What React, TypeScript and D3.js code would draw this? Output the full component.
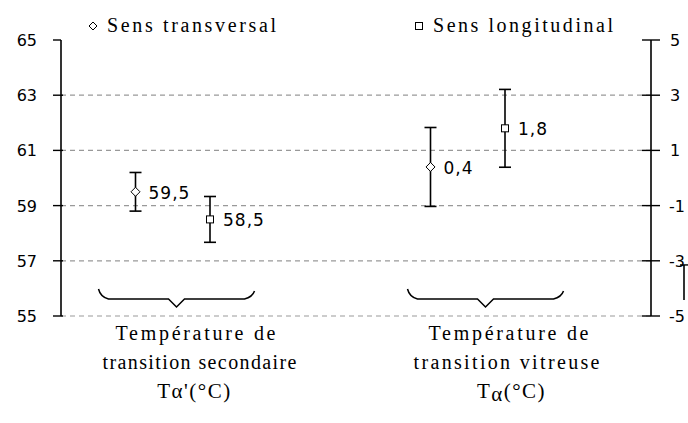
import React from "react";
import * as d3 from "d3";

const categories = ["secondaire", "vitreuse"];
const series = ["Sens transversal", "Sens longitudinal"];
// values: first category on left axis, second on right axis
const transversalValues = [59.5, 0.4];
const transversalErrors = [0.7, 1.43];
const longitudinalValues = [58.5, 1.8];
const longitudinalErrors = [0.83, 1.41];
const valueLabels = [["59,5", "0,4"], ["58,5", "1,8"]];
const leftTicks = [65, 63, 61, 59, 57, 55];
const rightTicks = [5, 3, 1, -1, -3, -5];
const gridValues = [63, 61, 59, 57, 55];
const categoryLines = [
  ["Température de", "transition secondaire"],
  ["Température de", "transition vitreuse"],
];

const W = 688;
const H = 423;
const left = 61;
const right = 651;
const top = 40;
const bottom = 316;

export default function App() {
  const yL = d3.scaleLinear().domain([55, 65]).range([bottom, top]);
  const yR = d3.scaleLinear().domain([-5, 5]).range([bottom, top]);
  const xCat = d3.scaleBand().domain(categories).range([left, right]);
  const xSer = d3.scalePoint().domain(series).range([-73, 1.5]);
  const cx = (c: string) => (xCat(c) as number) + xCat.bandwidth() / 2;
  const yFor = (ci: number) => (ci === 0 ? yL : yR);

  const sans = "'DejaVu Sans', Verdana, sans-serif";
  const serif = "'Liberation Serif', 'DejaVu Serif', serif";

  const seriesData = [
    { name: series[0], vals: transversalValues, errs: transversalErrors, shape: "diamond" },
    { name: series[1], vals: longitudinalValues, errs: longitudinalErrors, shape: "square" },
  ];

  const braceOffsets = [-32, -18];
  const labelOffsets = [[-13, -9, -14], [5, 3, 8]];
  const labelWidths = [[160, 194], [160, 186]];

  const brace = (c: number) => {
    const h = 78;
    return `M${c - h},${289} Q${c - h + 2},${297} ${c - h + 10},${299} L${c - 8},${299} L${c},${307} L${c + 8},${299} L${c + h - 10},${299} Q${c + h - 2},${297} ${c + h},${291}`;
  };

  return (
    <svg width={W} height={H} style={{ position: "absolute", left: 0, top: 0, background: "#fff" }}>
      <rect x={0} y={0} width={W} height={H} fill="#fff" />
      {/* grid */}
      {gridValues.map((v) => (
        <line key={v} x1={left} x2={right} y1={yL(v)} y2={yL(v)} stroke="#999" strokeWidth={1.2} strokeDasharray="5,4" />
      ))}
      {/* left axis */}
      <line x1={left} x2={left} y1={yL(65)} y2={yL(55)} stroke="#000" strokeWidth={1.6} />
      {leftTicks.map((t) => (
        <g key={t}>
          <line x1={left - 8} x2={left + (t === 65 ? 0 : 2)} y1={yL(t)} y2={yL(t)} stroke="#000" strokeWidth={1.4} />
          <text x={37} y={yL(t) + 6} textAnchor="end" fontFamily={sans} fontSize={16} fill="#000">{t}</text>
        </g>
      ))}
      {/* right axis */}
      <line x1={right} x2={right} y1={yR(5)} y2={yR(-5)} stroke="#000" strokeWidth={1.6} />
      {rightTicks.map((t) => (
        <g key={t}>
          <line x1={right - 9} x2={right + 9} y1={yR(t)} y2={yR(t)} stroke="#000" strokeWidth={1.4} />
          <text x={t < 0 ? 669 : 670} y={yR(t) + 6} fontFamily={sans} fontSize={16} fill="#000">{t < 0 ? "-" + Math.abs(t) : t}</text>
        </g>
      ))}
      {/* partial element at far right */}
      <line x1={684} x2={684} y1={yR(-3.15)} y2={yR(-4.42)} stroke="#000" strokeWidth={1.6} />
      <line x1={680} x2={688} y1={yR(-3.15)} y2={yR(-3.15)} stroke="#000" strokeWidth={1.4} />
      {/* data */}
      {seriesData.map((s, si) =>
        categories.map((c, ci) => {
          const x = cx(c) + (xSer(s.name) as number);
          const y = yFor(ci);
          const yv = y(s.vals[ci]);
          const yt = y(s.vals[ci] + s.errs[ci]);
          const yb = y(s.vals[ci] - s.errs[ci]);
          return (
            <g key={si + "-" + ci}>
              <line x1={x} x2={x} y1={yt} y2={yb} stroke="#000" strokeWidth={1.6} />
              <line x1={x - 6} x2={x + 6} y1={yt} y2={yt} stroke="#000" strokeWidth={1.6} />
              <line x1={x - 6} x2={x + 6} y1={yb} y2={yb} stroke="#000" strokeWidth={1.6} />
              {s.shape === "diamond" ? (
                <path d={`M${x},${yv - 4.5} L${x + 4.5},${yv} L${x},${yv + 4.5} L${x - 4.5},${yv} Z`} fill="#fff" stroke="#000" strokeWidth={1} />
              ) : (
                <rect x={x - 3.5} y={yv - 3.5} width={7} height={7} fill="#fff" stroke="#000" strokeWidth={1} />
              )}
              <text x={x + 13} y={yv + 7} fontFamily={sans} fontSize={17} letterSpacing={1} fill="#000">{valueLabels[si][ci]}</text>
            </g>
          );
        })
      )}
      {/* legend */}
      <path d="M93,22 L97,26 L93,30 L89,26 Z" fill="#fff" stroke="#000" strokeWidth={1} />
      <text x={107} y={32} fontFamily={serif} fontSize={20} textLength={169} lengthAdjust="spacing" fill="#000">{series[0]}</text>
      <rect x={415.5} y={22.5} width={7} height={7} fill="#fff" stroke="#000" strokeWidth={1} />
      <text x={433} y={32} fontFamily={serif} fontSize={20} textLength={180} lengthAdjust="spacing" fill="#000">{series[1]}</text>
      {/* braces and category labels */}
      {categories.map((c, ci) => {
        const bc = cx(c) + braceOffsets[ci];
        const lx = (k: number) => cx(c) + labelOffsets[ci][k];
        const lw = labelWidths[ci];
        return (
          <g key={c}>
            <path d={brace(bc)} fill="none" stroke="#000" strokeWidth={1.5} />
            <text x={lx(0)} y={340} textAnchor="middle" fontFamily={serif} fontSize={20} textLength={lw[0]} lengthAdjust="spacing" fill="#000">{categoryLines[ci][0]}</text>
            <text x={lx(1)} y={369} textAnchor="middle" fontFamily={serif} fontSize={20} textLength={lw[1]} lengthAdjust="spacing" fill="#000">{categoryLines[ci][1]}</text>
            {ci === 0 ? (
              <text x={lx(2)} y={398} textAnchor="middle" fontFamily={serif} fontSize={21} letterSpacing={1.5} fill="#000">Tα'(°C)</text>
            ) : (
              <text x={lx(2)} y={398} textAnchor="middle" fontFamily={serif} fontSize={21} letterSpacing={1.5} fill="#000">
                T<tspan dy={3}>α</tspan><tspan dy={-3}>(°C)</tspan>
              </text>
            )}
          </g>
        );
      })}
    </svg>
  );
}
